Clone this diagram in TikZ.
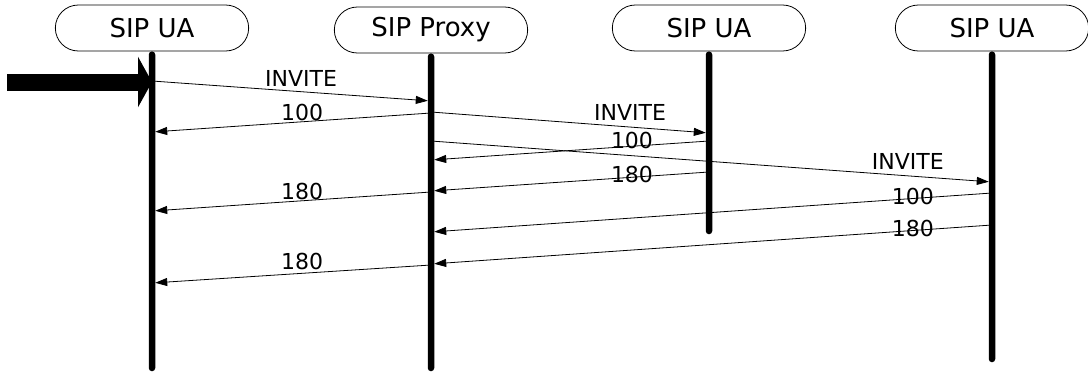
\documentclass[tikz,border=0pt]{standalone}
\usepackage{fontspec}
\setmainfont{DejaVu Sans}
\usepackage{tikz}
\usetikzlibrary{arrows.meta}
\usetikzlibrary{shapes.misc}

\tikzset{
  actor/.style={rounded rectangle, draw, line width=0.8pt, fill=white,
    minimum width=200pt, minimum height=46pt, font=\fontsize{26}{30}\selectfont},
  lifeline/.style={line width=6.5pt, line cap=round, shorten <=3.25pt},
  msg/.style={line width=0.8pt, -{Triangle[length=12pt,width=8pt]}, shorten >=3.25pt},
  lbl/.style={inner sep=0pt, font=\fontsize{22}{26}\selectfont},
  bigarrow/.style={line width=17pt, -{Triangle[length=14pt,width=50pt]}}
}

\begin{document}
\begin{tikzpicture}[x=1pt,y=-1pt]
\useasboundingbox (0,0) rectangle (1088,373);

% actors
\node[actor] (ua1) at (152,28) {SIP UA};
\node[actor] (proxy) at (431,30) {SIP Proxy};
\node[actor] (ua2) at (709,28) {SIP UA};
\node[actor] (ua3) at (992,28) {SIP UA};

% lifelines
\draw[lifeline] (ua1) -- (ua1 |- 0,368);
\draw[lifeline] (proxy) -- (proxy |- 0,368);
\draw[lifeline] (ua2) -- (ua2 |- 0,231);
\draw[lifeline] (ua3) -- (ua3 |- 0,359);

% incoming call
\coordinate (entry) at (7,82);
\draw[bigarrow] (entry) -- (ua1 |- 0,82);

% messages
\draw[msg] (ua1 |- 0,81) -- node[lbl, pos=.534, yshift=13.7pt] {INVITE} (proxy |- 0,101);
\draw[msg] (proxy |- 0,113) -- node[lbl, pos=.462, yshift=9.5pt] {100} (ua1 |- 0,132);
\draw[msg] (proxy |- 0,112) -- node[lbl, pos=.716, yshift=15pt] {INVITE} (ua2 |- 0,133);
\draw[msg] (ua2 |- 0,141) -- node[lbl, pos=.277, yshift=6pt] {100} (proxy |- 0,160);
\draw[msg] (proxy |- 0,141) -- node[lbl, pos=.85, yshift=14pt] {INVITE} (ua3 |- 0,182);
\draw[msg] (ua2 |- 0,172) -- node[lbl, pos=.277, yshift=3pt] {180} (proxy |- 0,191);
\draw[msg] (proxy |- 0,192) -- node[lbl, pos=.462, yshift=9pt] {180} (ua1 |- 0,211);
\draw[msg] (ua3 |- 0,193) -- node[lbl, pos=.141, yshift=2.5pt] {100} (proxy |- 0,232);
\draw[msg] (ua3 |- 0,225) -- node[lbl, pos=.141, yshift=2.5pt] {180} (proxy |- 0,264);
\draw[msg] (proxy |- 0,265) -- node[lbl, pos=.462, yshift=12pt] {180} (ua1 |- 0,283);

\end{tikzpicture}
\end{document}
